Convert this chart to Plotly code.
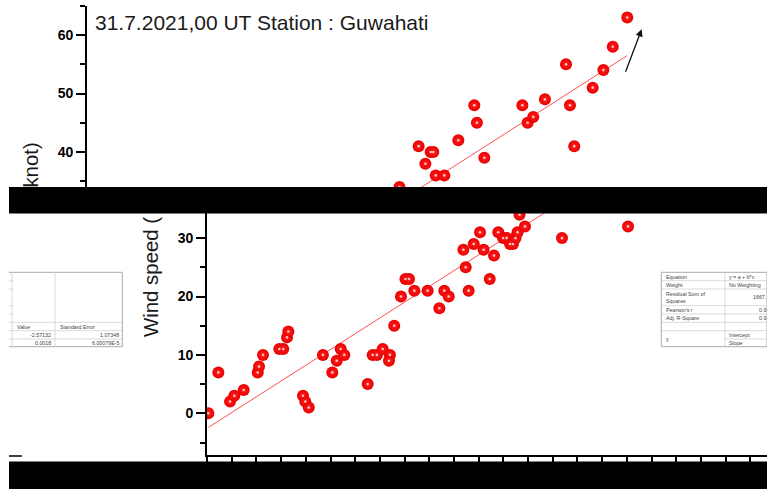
import plotly.graph_objects as go

W, H = 767, 489

# ---------------- data ----------------
# x: independent variable (units of the hidden x axis), y: wind speed (knot)
x_vals = [80, 690, 1400, 1660, 2230, 3080, 3160, 3400, 4390, 4630, 4860, 4940,
          5830, 5970, 6180,
          7040, 7610, 7880, 8120, 8340,
          9760, 10060, 10320, 10670, 11110, 11050, 11370,
          11780, 12050, 12270, 12590, 13400, 14110, 14410, 14680,
          15570, 15710, 15890, 16200, 16580, 16800, 17170, 17430, 17690,
          17980, 18200, 18400, 18580, 18740, 18860, 18980, 19310,
          21560, 25570,
          20140, 20550, 20870, 21030, 21180, 21700, 22550, 23520, 23680, 24130,
          26440, 26760, 27100, 27810, 29090, 29330, 29590, 30710, 31360, 31930, 32810]
wind_speed = [0, 7, 2, 3, 4, 7, 8, 10, 11, 11, 13, 14,
              3, 2, 1,
              10, 7, 9, 11, 10,
              5, 10, 10, 11, 10, 9, 15,
              20, 23, 23, 21, 21, 18, 21, 20,
              28, 25, 21, 29, 31, 28, 23, 27, 31,
              30, 30, 29, 29, 30, 31, 34, 32,
              30, 32,
              41, 38, 40, 40, 36, 36, 42, 48, 45, 39,
              48, 45, 46, 49, 55, 48, 41, 51, 54, 58, 63]
assert len(x_vals) == len(wind_speed)

# linear fit parameters (from the fit table)
INTERCEPT = -2.57132
SLOPE = 0.0018
INTERCEPT_SE = 1.07348
SLOPE_SE = 6.00079e-5

title_text = "31.7.2021,00 UT Station : Guwahati"

# fit table contents
table_rows = ["Equation", "Weight", "Residual Sum of<br>Squares", "Pearson's r", "Adj. R-Square", ""]
table_vals = ["y = a + b*x", "No Weighting"]
table_nums = ["1667.", "0.9", "0.9"]

# ---------------- helpers ----------------
def px(x):
    return x / W


def py(y):
    return 1 - y / H


FONT = "Liberation Sans, Arial, sans-serif"
UNITS_PER_PX = 60.73          # x scale
BOT_PX0, TOP_PX0 = 207, 87     # y-axis positions of the two strips
BOT_Y0, BOT_K = 413.3, 5.84
TOP_Y40, TOP_K = 152.0, 5.85

fit_x = [min(x_vals), max(x_vals)]
fit_y = [INTERCEPT + SLOPE * v for v in fit_x]

fig = go.Figure()
for xa, ya in [("x", "y"), ("x2", "y2")]:
    fig.add_trace(go.Scatter(x=fit_x, y=fit_y, mode="lines", xaxis=xa, yaxis=ya,
                             line=dict(color="#ff5050", width=1), hoverinfo="skip"))
    fig.add_trace(go.Scatter(x=x_vals, y=wind_speed, mode="markers", xaxis=xa, yaxis=ya,
                             marker=dict(size=12, color="#ea0000",
                                         gradient=dict(type="radial", color="#ff2020"),
                                         line=dict(width=0))))
    fig.add_trace(go.Scatter(x=x_vals, y=wind_speed, mode="markers", xaxis=xa, yaxis=ya,
                             marker=dict(size=2.6, color="rgba(255,225,225,0.85)",
                                         line=dict(width=0)), hoverinfo="skip"))

axis_common = dict(showline=True, linecolor="black", linewidth=1.6, showgrid=False,
                   zeroline=False, ticks="outside", tickcolor="black", tickwidth=1.5)
ytick = dict(tickfont=dict(family=FONT, size=14, color="black", weight="bold"),
             dtick=10, tick0=0, ticklen=9,
             minor=dict(dtick=5, ticklen=5, tickwidth=1.5, ticks="outside", tickcolor="black"))

bot_top_px, bot_bot_px = 211, 455
top_top_px, top_bot_px = 152 - 25 * TOP_K, 190

fig.update_layout(
    width=W, height=H, autosize=False,
    margin=dict(l=0, r=0, t=0, b=0, pad=0),
    paper_bgcolor="white", plot_bgcolor="white", showlegend=False,
    xaxis=dict(domain=[px(BOT_PX0), 1], range=[0, (W - BOT_PX0) * UNITS_PER_PX],
               anchor="y", dtick=1500, tick0=0, ticklen=6, showticklabels=False,
               **axis_common),
    yaxis=dict(domain=[py(bot_bot_px), py(bot_top_px)],
               range=[(BOT_Y0 - bot_bot_px) / BOT_K, (BOT_Y0 - bot_top_px) / BOT_K],
               anchor="x", **ytick, **axis_common),
    xaxis2=dict(domain=[px(TOP_PX0), 1], range=[0, (W - TOP_PX0) * UNITS_PER_PX],
                anchor="y2", visible=False),
    yaxis2=dict(domain=[py(top_bot_px), py(top_top_px)],
                range=[40 + (TOP_Y40 - top_bot_px) / TOP_K, 40 + (TOP_Y40 - top_top_px) / TOP_K],
                anchor="x2", **ytick, **axis_common),
)

shapes = []
annotations = []


def hline(x0, x1, y, color="#cfcfcf", w=0.8):
    shapes.append(dict(type="line", xref="paper", yref="paper", x0=px(x0), x1=px(x1),
                       y0=py(y), y1=py(y), line=dict(color=color, width=w)))


def vline(x, y0, y1, color="#cfcfcf", w=0.8):
    shapes.append(dict(type="line", xref="paper", yref="paper", x0=px(x), x1=px(x),
                       y0=py(y0), y1=py(y1), line=dict(color=color, width=w)))


def text(t, x, y, anchor="left", size=5.3, color="#444", **kw):
    annotations.append(dict(text=t, x=px(x), y=py(y), xref="paper", yref="paper",
                            xanchor=anchor, yanchor="middle", showarrow=False, align=anchor,
                            font=dict(family=FONT, size=size, color=color), **kw))


# ---------------- right table piece ----------------
RY = [272.3, 280.7, 289, 305.7, 314, 322.3, 330.7, 339, 346.7]
shapes.append(dict(type="rect", xref="paper", yref="paper", x0=px(661.3), x1=1,
                   y0=py(346.7), y1=py(272.3), fillcolor="white",
                   line=dict(color="#aaaaaa", width=1)))
for y in RY[1:7]:
    hline(661.3, 767, y)
hline(725, 767, RY[7])
vline(725, RY[0], RY[-1])
for i, lab in enumerate(table_rows):
    text(lab, 663.5, (RY[i] + RY[i + 1]) / 2)
text("y", 663.5, (RY[6] + RY[8]) / 2)
text(table_vals[0], 726.5, (RY[0] + RY[1]) / 2)
text(table_vals[1], 726.5, (RY[1] + RY[2]) / 2)
text(table_nums[0], 768, (RY[2] + RY[3]) / 2, anchor="right")
text(table_nums[1], 768, (RY[3] + RY[4]) / 2, anchor="right")
text(table_nums[2], 768, (RY[4] + RY[5]) / 2, anchor="right")
text("Intercept", 726.5, (RY[6] + RY[7]) / 2)
text("Slope", 726.5, (RY[7] + RY[8]) / 2)

# ---------------- left table piece (wrapped continuation) ----------------
shapes.append(dict(type="rect", xref="paper", yref="paper", x0=px(9), x1=px(122.3),
                   y0=py(346.7), y1=py(272.3), fillcolor="white",
                   line=dict(color="white", width=0)))
hline(9, 122.3, RY[0], color="#aaaaaa", w=1)
hline(9, 122.3, RY[-1], color="#aaaaaa", w=1)
vline(122.3, RY[0], RY[-1], color="#aaaaaa", w=1)
vline(12, RY[0], RY[-1])
vline(55, RY[0], RY[-1])
for y in RY[1:5]:
    hline(9, 13, y)
for y in RY[5:8]:
    hline(9, 122.3, y)
text("Value", 15, (RY[5] + RY[6]) / 2)
text("Standard Error", 57.5, (RY[5] + RY[6]) / 2)
text(f"{INTERCEPT:.5f}", 53, (RY[6] + RY[7]) / 2, anchor="right")
text(f"{INTERCEPT_SE:.5f}", 120.5, (RY[6] + RY[7]) / 2, anchor="right")
text(f"{SLOPE:.4f}", 53, (RY[7] + RY[8]) / 2, anchor="right")
text(f"{SLOPE_SE:.5E}".replace("E-05", "E-5"), 120.5, (RY[7] + RY[8]) / 2, anchor="right")

# wrapped piece of the x axis at the far left
hline(9, 22, 456, color="black", w=1.5)

# ---------------- titles ----------------
text(title_text, 93, 22.5, size=21, color="#1a1a1a")
annotations.append(dict(text="Wind speed (", x=px(151), y=py(277), xref="paper", yref="paper",
                        xanchor="center", yanchor="middle", showarrow=False, textangle=-90,
                        font=dict(family=FONT, size=20.4, color="#1a1a1a")))
annotations.append(dict(text="knot)", x=px(31), y=py(165.6), xref="paper", yref="paper",
                        xanchor="center", yanchor="middle", showarrow=False, textangle=-90,
                        font=dict(family=FONT, size=20.4, color="#1a1a1a")))

# arrow
annotations.append(dict(text="", x=px(641.7), y=py(29.3), xref="paper", yref="paper",
                        ax=625 - 641.7, ay=73.3 - 29.3, axref="pixel", ayref="pixel",
                        showarrow=True, arrowhead=2, arrowsize=1.1, arrowwidth=1.3,
                        arrowcolor="#111"))

# ---------------- black bars ----------------
shapes.append(dict(type="rect", xref="paper", yref="paper", x0=px(9), x1=1,
                   y0=py(213.5), y1=py(187), fillcolor="black", line=dict(width=0)))
shapes.append(dict(type="rect", xref="paper", yref="paper", x0=px(9), x1=1,
                   y0=0, y1=py(461.5), fillcolor="black", line=dict(width=0)))

fig.update_layout(shapes=shapes, annotations=annotations)
fig.write_html("out.html")
